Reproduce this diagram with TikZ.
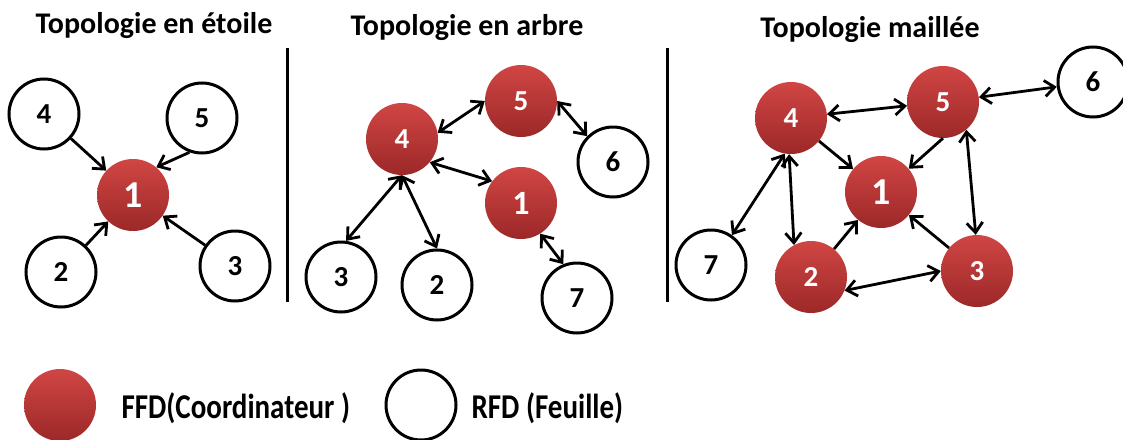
\documentclass[tikz,border=0pt]{standalone}
\usepackage{fontspec}
\setmainfont{Carlito}
\usetikzlibrary{arrows.meta}
\definecolor{ffdtop}{RGB}{208,70,68}
\definecolor{ffdbot}{RGB}{156,40,40}
\tikzset{ffd/.style={circle,minimum size=72pt,inner sep=0pt,top color=ffdtop,bottom color=ffdbot,text=white,font=\bfseries\fontsize{29}{29}\selectfont}}
\tikzset{rfd/.style={circle,minimum size=70pt,inner sep=0pt,draw=black,line width=3pt,fill=white,font=\bfseries\fontsize{29}{29}\selectfont}}
\tikzset{bignum/.style={font=\bfseries\fontsize{38}{38}\selectfont}}
\tikzset{link/.style={line width=2.8pt,-{Straight Barb[length=10pt,width=16pt]}}}
\tikzset{dlink/.style={line width=2.8pt,{Straight Barb[length=10pt,width=16pt]}-{Straight Barb[length=10pt,width=16pt]}}}
\tikzset{heading/.style={anchor=base,font=\bfseries\fontsize{30}{30}\selectfont}}
\tikzset{legendtext/.style={anchor=west,font=\bfseries\fontsize{29}{29}\selectfont,yscale=1.2,transform shape}}
\tikzset{divider/.style={line width=3pt}}

\begin{document}
\begin{tikzpicture}[x=1pt,y=-1pt]
	\useasboundingbox (0,0) rectangle (1123,439);

	%% headings and dividers
	\node[heading] (hstar) at (154,33) {Topologie en étoile};
	\node[heading] (htree) at (467,35) {Topologie en arbre};
	\node[heading] (hmesh) at (870,37) {Topologie maillée};
	\coordinate (d1top) at (287,48);
	\coordinate (d1bot) at (287,302);
	\coordinate (d2top) at (667,48);
	\coordinate (d2bot) at (667,302);
	\draw[divider] (d1top) -- (d1bot);
	\draw[divider] (d2top) -- (d2bot);

	%% star
	\node[ffd,bignum] (s1) at (133,195) {1};
	\node[rfd] (s4) at (44,114) {4};
	\node[rfd] (s5) at (202,118) {5};
	\node[rfd] (s2) at (61,272) {2};
	\node[rfd] (s3) at (235,266) {3};
	\draw[link] (s4) -- (s1);
	\draw[link] (s5.-110) -- (s1.50);
	\draw[link] (s2) -- (s1);
	\draw[link] (s3) -- (s1);

	%% tree
	\node[ffd] (t5) at (521,101) {5};
	\node[ffd] (t4) at (402,139) {4};
	\node[ffd,font=\bfseries\fontsize{34}{34}\selectfont] (t1) at (521,203) {1};
	\node[rfd] (t6) at (613,162) {6};
	\node[rfd] (t3) at (341,277) {3};
	\node[rfd] (t2) at (437,285) {2};
	\node[rfd] (t7) at (577,298) {7};
	\draw[dlink] (t4.10) -- (t5.west);
	\draw[dlink] (t4.-40) -- (t1.143);
	\draw[dlink] (t4.south) -- (t3.82);
	\draw[dlink] (t4.south) -- (t2.north);
	\draw[dlink] (t5.east) -- (t6.135);
	\draw[dlink] (t1.-58) -- (t7.112);

	%% mesh
	\node[ffd] (m4) at (791,118) {4};
	\node[ffd] (m5) at (943,102) {5};
	\node[rfd] (m6) at (1093,82) {6};
	\node[ffd,bignum] (m1) at (881,192) {1};
	\node[rfd] (m7) at (711,265) {7};
	\node[ffd] (m2) at (811,277) {2};
	\node[ffd] (m3) at (977,271) {3};
	\draw[dlink] (m4) -- (m5);
	\draw[dlink] (m5) -- (m6);
	\draw[link] (m4) -- (m1);
	\draw[link] (m5.south) -- (m1.40);
	\draw[dlink] (m5.-50) -- (m3.92);
	\draw[dlink] (m4.-100) -- (m7.55);
	\draw[dlink] (m4.-93) -- (m2.118);
	\draw[link] (m2) -- (m1);
	\draw[link] (m3) -- (m1);
	\draw[dlink] (m2.-22) -- (m3.west);

	%% legend
	\node[ffd] (lffd) at (60,405) {};
	\node[legendtext] (tffd) at (118,408) {FFD(Coordinateur )};
	\node[rfd] (lrfd) at (421,405) {};
	\node[legendtext] (trfd) at (468,408) {RFD (Feuille)};
\end{tikzpicture}
\end{document}
